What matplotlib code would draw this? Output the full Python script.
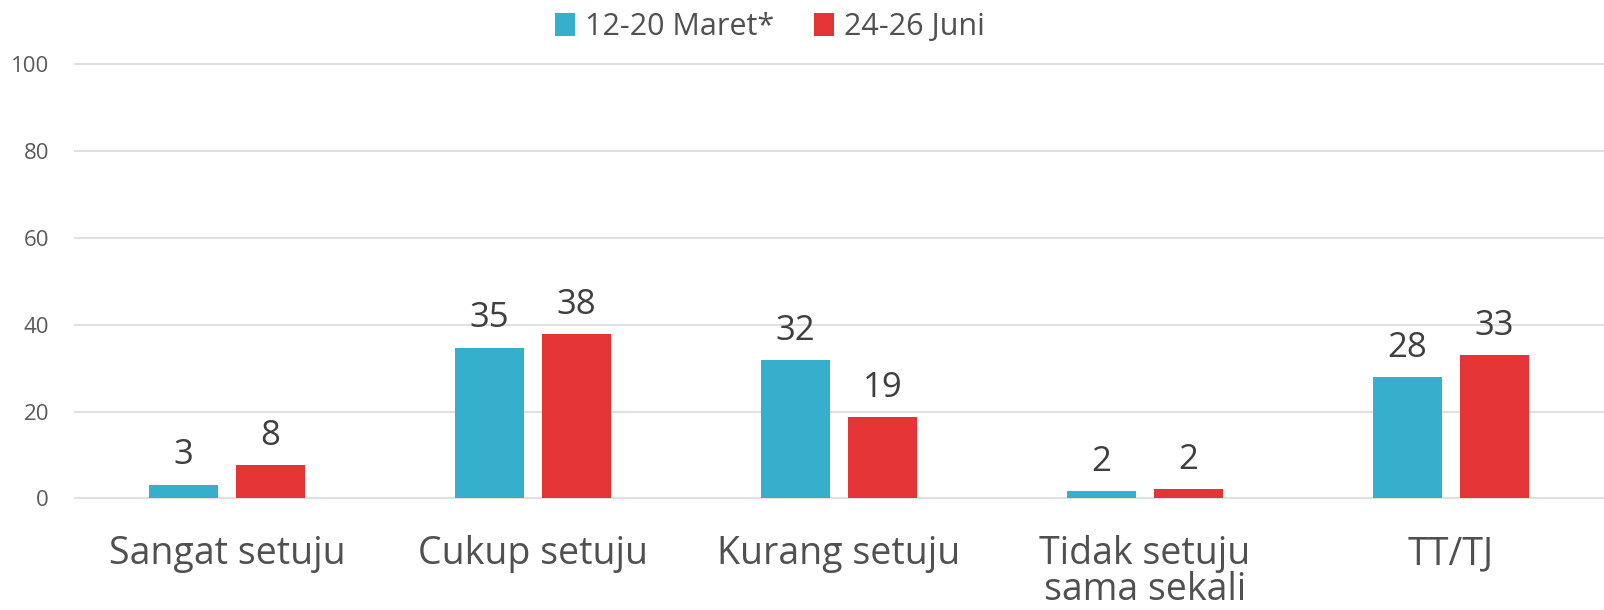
import matplotlib
matplotlib.use("Agg")
import matplotlib.pyplot as plt
import numpy as np

categories = ["Sangat setuju", "Cukup setuju", "Kurang setuju",
              "Tidak setuju\nsama sekali", "TT/TJ"]
series_names = ["12-20 Maret*", "24-26 Juni"]
maret = [3.2, 34.7, 31.8, 1.8, 27.9]
juni = [7.6, 37.9, 18.7, 2.2, 33.0]
yticks = [0, 20, 40, 60, 80, 100]

colors = ["#35afcb", "#e43436"]

plt.rcParams["font.family"] = ["Open Sans", "DejaVu Sans"]

W, H = 1604, 610
fig = plt.figure(figsize=(W / 100, H / 100), dpi=100)

# axes placement in pixels
left_px, right_px = 74, 1604
ymin, ymax = -0.5, 101
px_per_unit = (498.5 - 63.7) / 100
bottom_px = 498.5 + (0 - ymin) * px_per_unit
top_px = 498.5 - ymax * px_per_unit
ax = fig.add_axes([left_px / W, 1 - bottom_px / H,
                   (right_px - left_px) / W, (bottom_px - top_px) / H])

x = np.arange(len(categories))
width = 0.2255
offset = 0.142
for vals, off, c, name in [(maret, -offset, colors[0], series_names[0]),
                           (juni, offset, colors[1], series_names[1])]:
    bars = ax.bar(x + off, vals, width, color=c, label=name, zorder=3)
    for b, v in zip(bars, vals):
        ax.annotate(f"{round(v)}", (b.get_x() + b.get_width() / 2, v),
                    xytext=(0, 14.5), textcoords="offset points",
                    ha="center", va="baseline", fontsize=25, color="#3f3f3f")

ax.set_xlim(-0.5, len(categories) - 0.5)
ax.set_ylim(ymin, ymax)
ax.set_yticks(yticks)
ax.set_xticks(x)
ax.set_xticklabels(categories, linespacing=0.92)
ax.grid(axis="y", color="#e0e0e0", linewidth=1.5, zorder=0)
ax.tick_params(axis="y", length=0, pad=18, labelsize=16, labelcolor="#5a5a5a")
ax.tick_params(axis="x", length=0, pad=25, labelsize=27, labelcolor="#505050")
for s in ax.spines.values():
    s.set_visible(False)

fig.legend(loc="center", bbox_to_anchor=(770 / W, 1 - 27 / H), ncol=2,
           frameon=False, fontsize=22, labelcolor="#505050",
           handlelength=0.65, handleheight=0.75, handletextpad=0.33,
           columnspacing=1.3)

fig.savefig("out.png", dpi=100)
